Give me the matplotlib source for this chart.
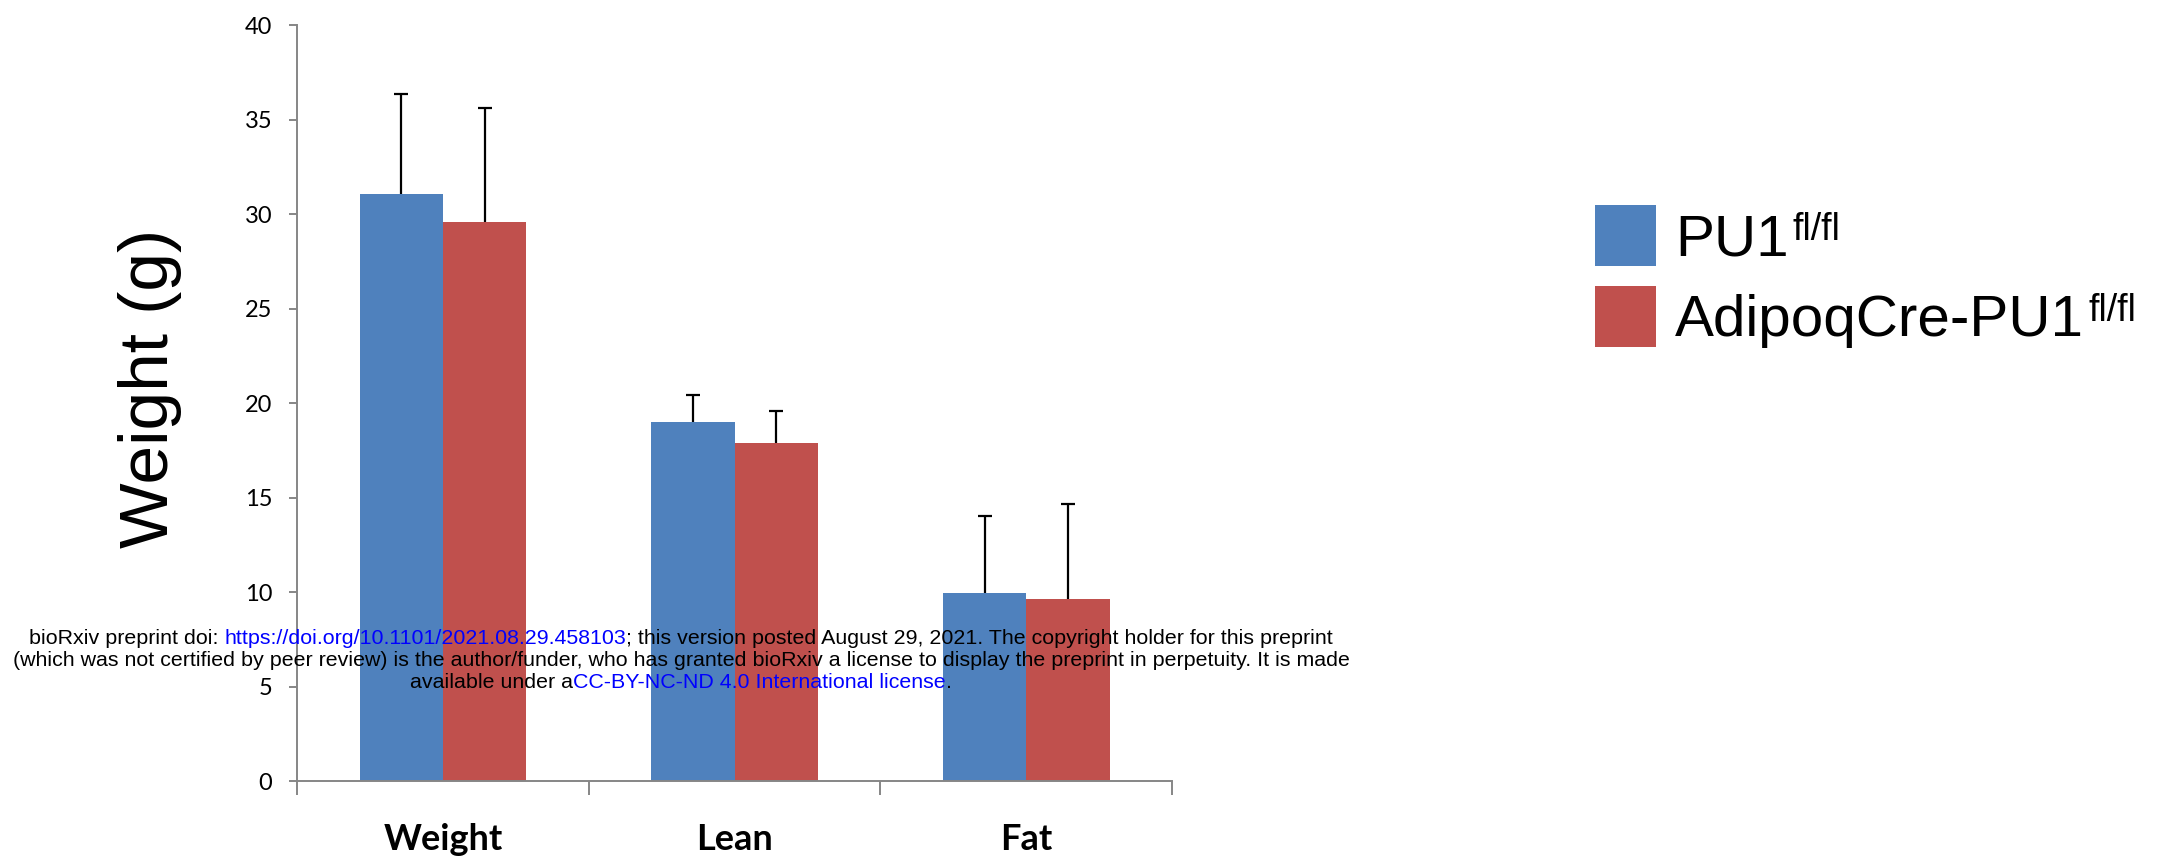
import matplotlib
matplotlib.use("Agg")
import matplotlib.pyplot as plt
from matplotlib import font_manager
import numpy as np

# ---- data ----
categories = ["Weight", "Lean", "Fat"]
series_names = ["PU1", "AdipoqCre-PU1"]
series_sup = "fl/fl"
control_mean = [31.09, 18.99, 9.96]
control_err = [5.25, 1.44, 4.07]
knockout_mean = [29.58, 17.91, 9.66]
knockout_err = [6.05, 1.69, 5.02]
y_ticks = [0, 5, 10, 15, 20, 25, 30, 35, 40]

colors = ["#4F81BD", "#C0504D"]
axis_gray = "#868686"


def pick_family(*names):
    for n in names:
        try:
            font_manager.findfont(font_manager.FontProperties(family=n), fallback_to_default=False)
            return n
        except Exception:
            continue
    return "DejaVu Sans"


sans = pick_family("Liberation Sans Narrow", "Liberation Sans")
tick_font = pick_family("Lato")

fig = plt.figure(figsize=(21.67, 8.59), dpi=100)
W_px = fig.get_figwidth() * fig.dpi
H_px = fig.get_figheight() * fig.dpi
ax = fig.add_axes([0.1371, 0.0905, 0.4038, 0.8802])

x = np.arange(len(categories))
w = 1 / 3.5
b1 = ax.bar(x - w / 2, control_mean, width=w, color=colors[0], label=series_names[0], zorder=2)
b2 = ax.bar(x + w / 2, knockout_mean, width=w, color=colors[1], label=series_names[1], zorder=2)

# plus-only error bars: keep just the upper cap
for xs, m, e in [(x - w / 2, control_mean, control_err), (x + w / 2, knockout_mean, knockout_err)]:
    _, caps, _ = ax.errorbar(xs, m, yerr=[np.zeros(len(e)), e], fmt="none", ecolor="black",
                             elinewidth=1.6, capsize=5, capthick=1.6, zorder=3)
    caps[0].set_visible(False)

ax.set_xlim(-0.5, len(categories) - 0.5)
ax.set_ylim(0, 40)
ax.set_yticks(y_ticks)
ax.set_yticklabels([str(t) for t in y_ticks], fontfamily=tick_font, fontsize=17)
ax.tick_params(axis="y", direction="out", length=6, width=1.4, color=axis_gray, pad=12)

ax.set_xticks(x)
ax.set_xticklabels(categories, fontfamily=tick_font, fontweight="bold", fontsize=26)
ax.tick_params(axis="x", which="major", length=0, pad=30)
ax.set_xticks(np.arange(len(categories) + 1) - 0.5, minor=True)
ax.tick_params(axis="x", which="minor", direction="out", length=10, width=1.4, color=axis_gray)

for s in ["top", "right"]:
    ax.spines[s].set_visible(False)
for s in ["left", "bottom"]:
    ax.spines[s].set_color(axis_gray)
    ax.spines[s].set_linewidth(1.4)

ax.set_ylabel("Weight (g)", fontfamily=sans, fontsize=50, labelpad=0)
ax.yaxis.set_label_coords(-0.132, 0.52)

leg_fs = 42
leg = ax.legend(handles=[b1, b2], loc="upper left", bbox_to_anchor=(0.736, 0.7614),
                bbox_transform=fig.transFigure, frameon=False, prop={"family": sans, "size": leg_fs},
                handlelength=1.046, handleheight=1.232, handletextpad=0.33, labelspacing=0.32,
                borderpad=0, borderaxespad=0)

# preprint notice, three centred lines with blue link segments
notice = [
    [("bioRxiv preprint doi: ", "black"), ("https://doi.org/10.1101/2021.08.29.458103", "#0000FF"),
     ("; this version posted August 29, 2021. The copyright holder for this preprint", "black")],
    [("(which was not certified by peer review) is the author/funder, who has granted bioRxiv a license to display the preprint in perpetuity. It is made", "black")],
    [("available under a", "black"), ("CC-BY-NC-ND 4.0 International license", "#0000FF"), (".", "black")],
]
line_y = [638, 660, 682]
center_x = 681

fig.canvas.draw()
renderer = fig.canvas.get_renderer()

# superscripts after the legend labels
fs_px = leg_fs * fig.dpi / 72
for t in leg.get_texts():
    bb = t.get_window_extent(renderer)
    baseline = bb.y0 + 0.21 * fs_px
    cap_top = baseline + 0.716 * fs_px
    fig.text((bb.x1 + 4) / W_px, (cap_top + 1) / H_px, series_sup, family=sans, fontsize=27,
             ha="left", va="top")

for segs, yy in zip(notice, line_y):
    texts = [fig.text(0, 1 - yy / H_px, s, color=c, family=sans, fontsize=15.4, va="center", ha="left")
             for s, c in segs]
    widths = [t.get_window_extent(renderer).width for t in texts]
    x0 = center_x - sum(widths) / 2
    for t, wd in zip(texts, widths):
        t.set_x(x0 / W_px)
        x0 += wd

fig.savefig("out.png", dpi=100)
